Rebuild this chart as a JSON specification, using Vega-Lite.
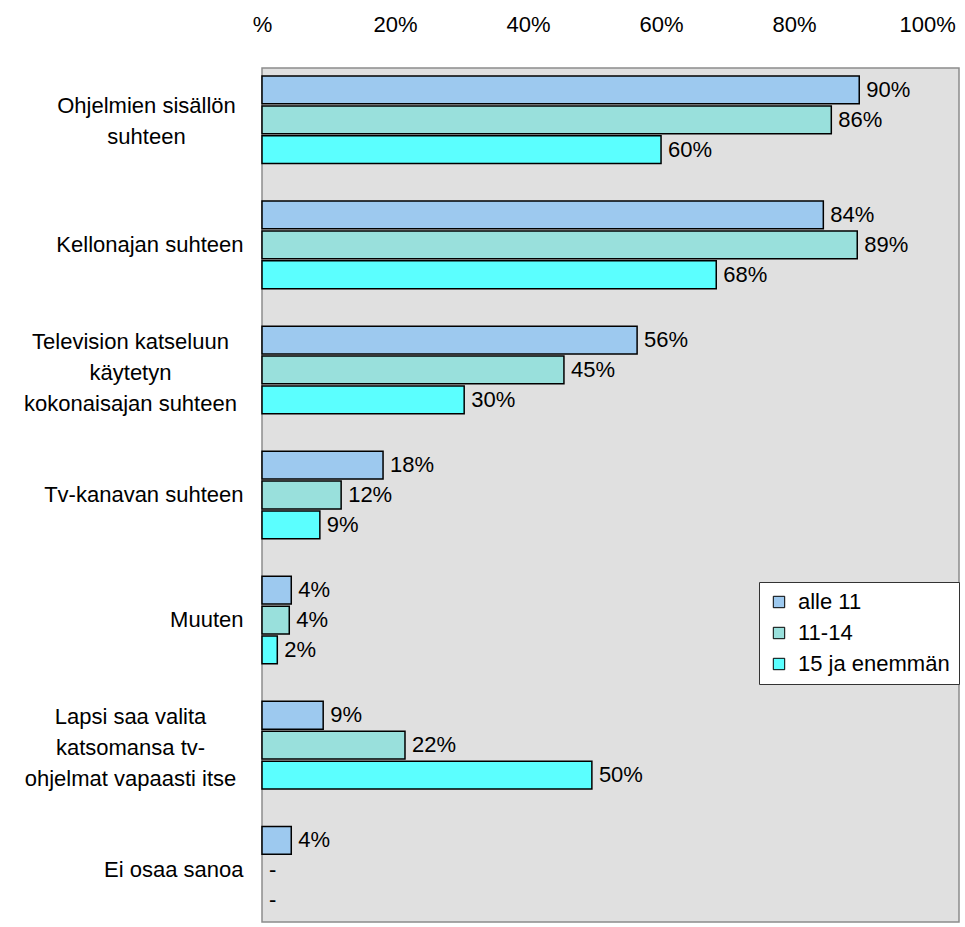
{
  "$schema": "https://vega.github.io/schema/vega-lite/v6.json",
  "autosize": {"type": "none"},
  "padding": {"left": 262, "top": 68, "right": 6, "bottom": 5},
  "width": 697,
  "height": 854,
  "background": "white",
  "config": {
    "font": "Liberation Sans",
    "view": {"fill": "#e0e0e0", "stroke": "#8c8c8c", "strokeWidth": 1.5}
  },
  "data": {
    "values": [
      {"cat": "Ohjelmien sisällön|suhteen", "grp": "alle 11", "v": 89.8, "tx": 89.8, "lbl": "90%"},
      {"cat": "Ohjelmien sisällön|suhteen", "grp": "11-14", "v": 85.6, "tx": 85.6, "lbl": "86%"},
      {"cat": "Ohjelmien sisällön|suhteen", "grp": "15 ja enemmän", "v": 60.0, "tx": 60.0, "lbl": "60%"},
      {"cat": "Kellonajan suhteen", "grp": "alle 11", "v": 84.4, "tx": 84.4, "lbl": "84%"},
      {"cat": "Kellonajan suhteen", "grp": "11-14", "v": 89.5, "tx": 89.5, "lbl": "89%"},
      {"cat": "Kellonajan suhteen", "grp": "15 ja enemmän", "v": 68.3, "tx": 68.3, "lbl": "68%"},
      {"cat": "Television katseluun|käytetyn|kokonaisajan suhteen", "grp": "alle 11", "v": 56.4, "tx": 56.4, "lbl": "56%"},
      {"cat": "Television katseluun|käytetyn|kokonaisajan suhteen", "grp": "11-14", "v": 45.4, "tx": 45.4, "lbl": "45%"},
      {"cat": "Television katseluun|käytetyn|kokonaisajan suhteen", "grp": "15 ja enemmän", "v": 30.4, "tx": 30.4, "lbl": "30%"},
      {"cat": "Tv-kanavan suhteen", "grp": "alle 11", "v": 18.2, "tx": 18.2, "lbl": "18%"},
      {"cat": "Tv-kanavan suhteen", "grp": "11-14", "v": 11.9, "tx": 11.9, "lbl": "12%"},
      {"cat": "Tv-kanavan suhteen", "grp": "15 ja enemmän", "v": 8.7, "tx": 8.7, "lbl": "9%"},
      {"cat": "Muuten", "grp": "alle 11", "v": 4.4, "tx": 4.4, "lbl": "4%"},
      {"cat": "Muuten", "grp": "11-14", "v": 4.1, "tx": 4.1, "lbl": "4%"},
      {"cat": "Muuten", "grp": "15 ja enemmän", "v": 2.3, "tx": 2.3, "lbl": "2%"},
      {"cat": "Lapsi saa valita|katsomansa tv-|ohjelmat vapaasti itse", "grp": "alle 11", "v": 9.2, "tx": 9.2, "lbl": "9%"},
      {"cat": "Lapsi saa valita|katsomansa tv-|ohjelmat vapaasti itse", "grp": "11-14", "v": 21.5, "tx": 21.5, "lbl": "22%"},
      {"cat": "Lapsi saa valita|katsomansa tv-|ohjelmat vapaasti itse", "grp": "15 ja enemmän", "v": 49.6, "tx": 49.6, "lbl": "50%"},
      {"cat": "Ei osaa sanoa", "grp": "alle 11", "v": 4.4, "tx": 4.4, "lbl": "4%"},
      {"cat": "Ei osaa sanoa", "grp": "11-14", "v": null, "tx": 0, "lbl": "-"},
      {"cat": "Ei osaa sanoa", "grp": "15 ja enemmän", "v": null, "tx": 0, "lbl": "-"}
    ]
  },
  "encoding": {
    "y": {
      "field": "cat",
      "type": "nominal",
      "sort": null,
      "scale": {"paddingInner": 0.3, "paddingOuter": 0.064},
      "axis": {
        "title": null,
        "domain": false,
        "ticks": false,
        "labelFontSize": 22,
        "labelColor": "black",
        "labelLimit": 0,
        "labelLineHeight": 31,
        "labelBaseline": "middle",
        "labelExpr": "split(datum.value, '|')",
        "labelAlign": {
          "condition": {"test": "indexof(datum.value, '|') >= 0", "value": "center"},
          "value": "right"
        },
        "labelPadding": {
          "condition": [
            {"test": "indexof(datum.value, 'Ohjelmien') >= 0", "value": 116},
            {"test": "indexof(datum.value, '|') >= 0", "value": 132}
          ],
          "value": 19
        },
        "labelOffset": {
          "condition": [
            {"test": "indexof(datum.value, 'Ohjelmien') >= 0", "value": -14},
            {"test": "indexof(datum.value, '|') >= 0", "value": -28}
          ],
          "value": 0
        }
      }
    },
    "yOffset": {
      "field": "grp",
      "type": "nominal",
      "sort": ["alle 11", "11-14", "15 ja enemmän"],
      "scale": {"paddingInner": 0.07, "paddingOuter": 0}
    }
  },
  "layer": [
    {
      "mark": {"type": "bar", "stroke": "black", "strokeWidth": 1.5},
      "encoding": {
        "x": {
          "field": "v",
          "type": "quantitative",
          "scale": {"domain": [0, 104.8], "nice": false, "zero": true},
          "axis": {
            "orient": "top",
            "title": null,
            "domain": false,
            "ticks": false,
            "grid": false,
            "values": [0, 20, 40, 60, 80, 100],
            "labelExpr": "datum.value == 0 ? '%' : datum.value + '%'",
            "labelFontSize": 22,
            "labelColor": "black",
            "labelPadding": 32,
            "labelFlush": false,
            "labelOverlap": false
          }
        },
        "color": {
          "field": "grp",
          "type": "nominal",
          "sort": ["alle 11", "11-14", "15 ja enemmän"],
          "scale": {
            "domain": ["alle 11", "11-14", "15 ja enemmän"],
            "range": ["#9dc9ef", "#99e0dc", "#5bffff"]
          },
          "legend": {
            "title": null,
            "orient": "none",
            "legendX": 497,
            "legendY": 514,
            "fillColor": "white",
            "strokeColor": "#333333",
            "padding": 9,
            "symbolType": "square",
            "symbolSize": 130,
            "symbolStrokeColor": "black",
            "symbolStrokeWidth": 1,
            "symbolOpacity": 1,
            "labelFontSize": 22,
            "labelColor": "black",
            "labelOffset": 8,
            "rowPadding": 9,
            "labelLimit": 0
          }
        }
      }
    },
    {
      "mark": {"type": "text", "align": "left", "baseline": "middle", "dx": 7, "fontSize": 22, "color": "black"},
      "encoding": {
        "x": {"field": "tx", "type": "quantitative"},
        "text": {"field": "lbl"}
      }
    }
  ]
}
